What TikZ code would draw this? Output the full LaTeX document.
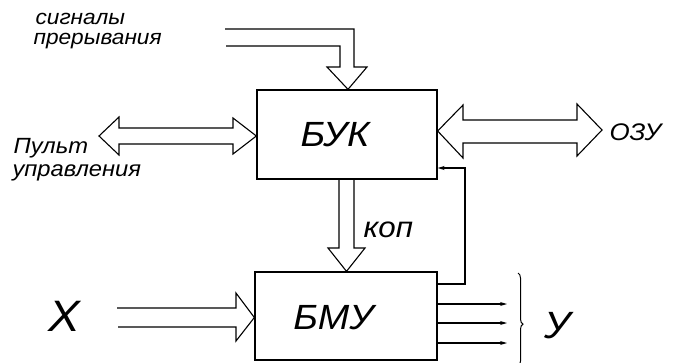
\documentclass[tikz,border=0pt]{standalone}
\usepackage{fontspec}
\setmainfont{Liberation Sans}[FakeStretch=1.08]
\usetikzlibrary{arrows.meta,decorations.pathreplacing,calc}
\begin{document}
\begin{tikzpicture}[x=1pt,y=-1pt, line width=1.1pt, line join=miter,
  blk/.style={draw, rectangle, inner sep=0pt, line width=1.3pt},
  lbl/.style={inner sep=0pt},
  hand/.style={lbl, font=\itshape\fontsize{#1}{#1}\selectfont},
  tip/.style={-{Stealth[length=7pt,width=4pt]}}]
\useasboundingbox (0,0) rectangle (676,362);
% blocks
\node[blk, minimum width=180pt, minimum height=89pt] (buk) at (347,134.5) {};
\node[hand=35] (buktxt) at (335,134.5) {БУК};
\node[blk, minimum width=182pt, minimum height=88pt] (bmu) at (346,316) {};
\node[hand=35] (bmutxt) at (333.5,317.5) {БМУ};
% labels
\node[hand=21, anchor=base west] (sig1) at (35,24) {сигналы};
\node[hand=21, anchor=base west] (sig2) at (33,44) {прерывания};
\node[hand=22, anchor=base west] (pult1) at (13,153) {Пульт};
\node[hand=22, anchor=base west] (pult2) at (12,176) {управления};
\node[hand=24, anchor=base west] (ozu) at (609,140) {ОЗУ};
\node[hand=29, anchor=base west] (kop) at (363,237) {коп};
\node[hand=44] (xin) at (64,316) {Х};
\node[hand=38] (yout) at (558,326) {У};
% interrupt signals block arrow
\draw (225,29) -- (354,29) -- (354,67) -- (367,67) -- (buk.north -| 348,0) -- (327,67) -- (340,67) -- (340,46) -- (226,46);
% control panel double arrow
\draw (119,128) -- (233,128) -- (233,118) -- (buk.west |- 0,136) -- (233,154) -- (233,144) -- (119,144) -- (119,155) -- (99,136) -- (119,117) -- cycle;
% memory double arrow
\draw (463,120) -- (577,120) -- (577,104) -- (602,130) -- (577,156) -- (577,143) -- (463,143) -- (463,158) -- (buk.east |- 0,131) -- (463,105) -- cycle;
% kop arrow
\draw (buk.south -| 339,0) -- (339,248) -- (328,248) -- (bmu.north -| 346.5,0) -- (365,248) -- (354,248) -- (buk.south -| 354,0);
% X input arrow
\draw (117,308) -- (236,308) -- (236,293) -- (bmu.west |- 0,317.5) -- (236,341) -- (236,327) -- (118,327);
% feedback
\draw[tip] (bmu.east |- 0,284) -- (465,284) -- (465,168) -- (buk.east |- 0,168);
% outputs
\draw[tip] (bmu.east |- 0,304) -- (507,304);
\draw[tip] (bmu.east |- 0,323) -- (507,323);
\draw[tip] (bmu.east |- 0,343) -- (507,343);
% brace
\draw[line width=1pt, decorate, decoration={brace, amplitude=5pt, aspect=0.55}] (518,273) -- (518,366);
\end{tikzpicture}
\end{document}
